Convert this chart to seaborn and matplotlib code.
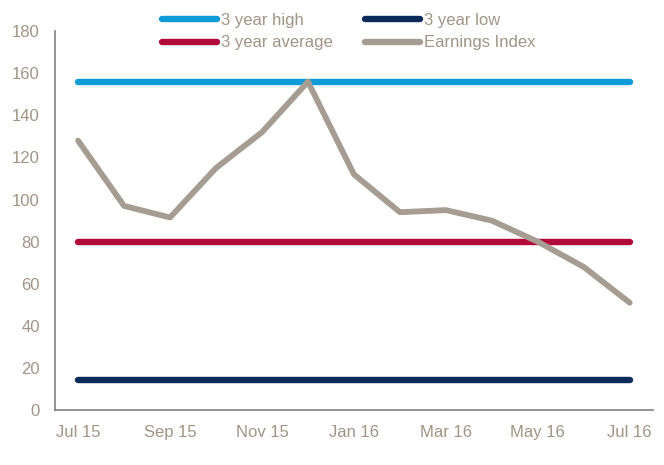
import matplotlib
matplotlib.use("Agg")
import matplotlib.pyplot as plt
import seaborn as sns
import pandas as pd
import numpy as np
from matplotlib.lines import Line2D

months = ["Jul 15", "Aug 15", "Sep 15", "Oct 15", "Nov 15", "Dec 15", "Jan 16",
          "Feb 16", "Mar 16", "Apr 16", "May 16", "Jun 16", "Jul 16"]
earnings_index = [128, 97, 91.5, 115, 132, 156, 112, 94, 95, 90, 80, 68, 51]
high_3y = [156] * 13
low_3y = [14.5] * 13
avg_3y = [80] * 13

series_names = ["3 year high", "3 year low", "3 year average", "Earnings Index"]
colors = {"3 year high": "#0E9BD8", "3 year low": "#0B2B5A",
          "3 year average": "#B30A3C", "Earnings Index": "#A69C91"}

frames = []
for name, vals in zip(series_names, [high_3y, low_3y, avg_3y, earnings_index]):
    frames.append(pd.DataFrame({"idx": np.arange(len(months)), "value": vals,
                                "series": name}))
df = pd.concat(frames, ignore_index=True)

sns.set_style("white")
plt.rcParams['font.family'] = ['Liberation Sans Narrow', 'Liberation Sans', 'DejaVu Sans']
text_color = "#A09484"

fig = plt.figure(figsize=(6.64, 4.65), dpi=100)
ax = fig.add_axes([0.083, 0.118, 0.9, 0.815])

sns.lineplot(data=df, x="idx", y="value", hue="series", hue_order=series_names,
             palette=colors, ax=ax, linewidth=4.6, legend=False, sort=False)
for ln in ax.get_lines():
    ln.set_solid_capstyle("round")
    ln.set_solid_joinstyle("round")
ax.get_lines()[3].set_linewidth(4.2)

ax.set_xlim(-0.5, len(months) - 0.5)
ax.set_ylim(0, 180)
ax.set_yticks(np.arange(0, 181, 20))
ax.set_xticks(np.arange(-0.5, len(months), 1.0), minor=False)
ax.set_xticklabels([])
ax.set_xticks(np.arange(0, len(months), 2), minor=True)
ax.set_xticklabels([months[i] for i in range(0, len(months), 2)], minor=True)
ax.tick_params(axis="x", which="major", length=5, width=1.2, color="#808080", direction="out")
ax.tick_params(axis="x", which="minor", length=0, pad=11, labelsize=12, labelcolor=text_color)
ax.tick_params(axis="y", length=5, width=1.2, color="#808080", direction="out",
               labelsize=12, labelcolor=text_color, pad=6)
ax.set_xlabel("")
ax.set_ylabel("")
for s in ["top", "right"]:
    ax.spines[s].set_visible(False)
for s in ["left", "bottom"]:
    ax.spines[s].set_color("#808080")
    ax.spines[s].set_linewidth(1.2)

order = ["3 year high", "3 year average", "3 year low", "Earnings Index"]
handles = [Line2D([0], [0], color=colors[n], lw=4.6, solid_capstyle="round") for n in order]
leg = fig.legend(handles, order, loc="upper left", bbox_to_anchor=(162 / 664, 1 - 13 / 465),
                 ncol=2, frameon=False, fontsize=12, handlelength=3.3, handletextpad=0.25,
                 columnspacing=1.9, labelspacing=0.45, borderaxespad=0, borderpad=0)
for t in leg.get_texts():
    t.set_color(text_color)

fig.savefig("out.png", dpi=100)
